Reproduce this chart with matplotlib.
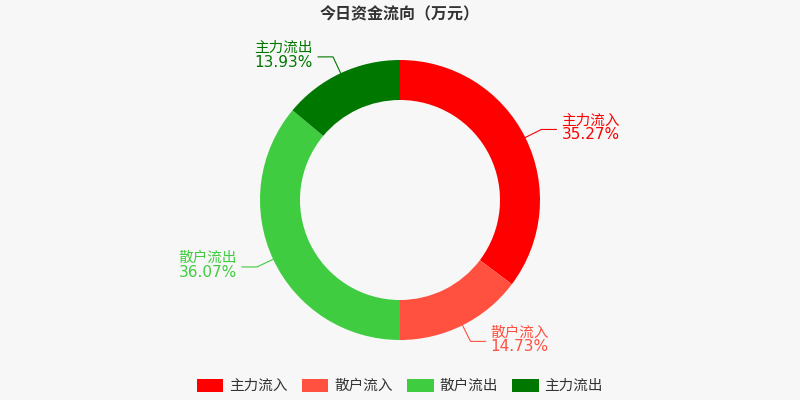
import numpy as np
import matplotlib
matplotlib.use('Agg')
import matplotlib.pyplot as plt
from matplotlib.patches import Patch

plt.rcParams['font.family'] = ['Noto Sans CJK SC', 'DejaVu Sans']

names = ['主力流入', '散户流入', '散户流出', '主力流出']
shares = [35.27, 14.73, 36.07, 13.93]
colors = ['#ff0000', '#ff5040', '#40cc40', '#007800']

fig = plt.figure(figsize=(8, 4), dpi=100, facecolor='#f7f7f7')
ax = fig.add_axes([0, 0, 1, 1])
ax.set_facecolor('#f7f7f7')
cx, cy, R = 400, 200, 140
wedges, _ = ax.pie(shares, colors=colors, startangle=90, counterclock=False,
                   radius=R, center=(cx, cy),
                   wedgeprops=dict(width=40, linewidth=0))
ax.set_xlim(0, 800)
ax.set_ylim(0, 400)
ax.set_aspect('equal')
ax.axis('off')

for w, name, s, c in zip(wedges, names, shares, colors):
    a = np.deg2rad((w.theta1 + w.theta2) / 2)
    x0, y0 = cx + R * np.cos(a), cy + R * np.sin(a)
    x1, y1 = cx + (R + 18) * np.cos(a), cy + (R + 18) * np.sin(a)
    right = np.cos(a) > 0
    x2 = x1 + (15 if right else -15)
    ax.plot([x0, x1, x2], [y0, y1, y1], color=c, lw=0.8)
    tx = x2 + (5 if right else -5)
    ha = 'left' if right else 'right'
    ax.text(tx, y1 + 2, name, color=c, fontsize=10.5, ha=ha, va='bottom')
    ax.text(tx, y1 + 2, f'{s:.2f}%', color=c, fontsize=11, ha=ha, va='top',
            family='DejaVu Sans')

fig.text(0.5, 0.965, '今日资金流向（万元）', ha='center', va='center',
         fontsize=11.5, fontweight='bold', color='#333333')
handles = [Patch(facecolor=c, edgecolor='none') for c in colors]
fig.legend(handles, names, loc='center', bbox_to_anchor=(0.5, 0.035), ncol=4,
           frameon=False, fontsize=10.5, handlelength=1.8, handleheight=1.0,
           columnspacing=1.0, handletextpad=0.4, labelcolor='#333333')
fig.savefig('out.png', facecolor=fig.get_facecolor())
